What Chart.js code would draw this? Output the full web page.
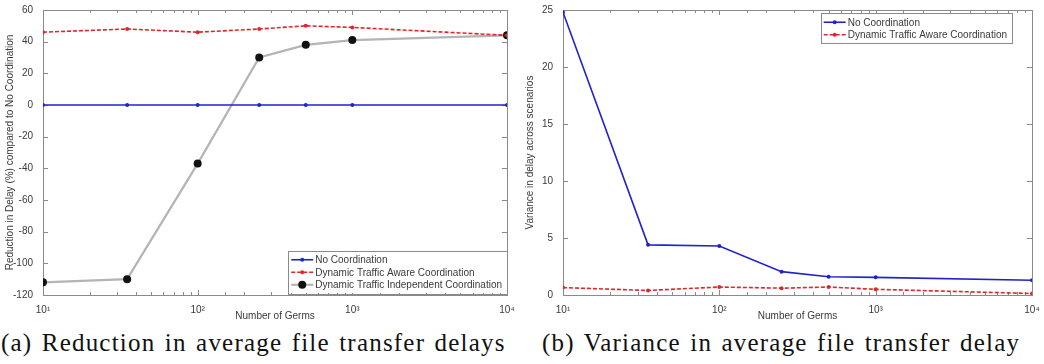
<!DOCTYPE html>
<html>
<head>
<meta charset="utf-8">
<script src="https://cdn.jsdelivr.net/npm/chart.js@4.4.1/dist/chart.umd.min.js"></script>
<style>
  html, body { margin: 0; padding: 0; background: #fff; }
  body { width: 1044px; height: 364px; position: relative; overflow: hidden; }
  .panel { position: absolute; top: 0; height: 322px; }
  #panelA { left: 0; width: 520px; }
  #panelB { left: 520px; width: 524px; }
  .caption {
    position: absolute; top: 329px; margin: 0;
    font-family: "Liberation Serif", serif;
    font-size: 25px; line-height: 28px; color: #111; white-space: nowrap;
    letter-spacing: 1.2px; word-spacing: 2px;
  }
  #capA { left: 1px; }
  #capB { left: 542px; }
</style>
</head>
<body>
<div class="panel" id="panelA"><canvas id="delayChart"></canvas></div>
<div class="panel" id="panelB"><canvas id="varChart"></canvas></div>
<p class="caption" id="capA">(a) Reduction in average file transfer delays</p>
<p class="caption" id="capB">(b) Variance in average file transfer delay</p>

<script>
// number of germs (x, log scale)
const germs = [10, 35, 100, 250, 500, 1000, 10000];

// (a) reduction in delay, % vs no coordination
const reductionNone = [0, 0, 0, 0, 0, 0, 0];
const reductionAware = [46, 48, 46, 48, 50, 49, 44];
const reductionIndep = [-112, -110, -37, 30, 38, 41, 44];

// (b) variance in delay across scenarios
const varianceNone = [24.8, 4.4, 4.3, 2.05, 1.6, 1.55, 1.3];
const varianceAware = [0.65, 0.4, 0.7, 0.6, 0.7, 0.5, 0.13];

const seriesNames = ['No Coordination', 'Dynamic Traffic Aware Coordination', 'Dynamic Traffic Independent Coordination'];
const xTickLabels = { 10: '10\u00B9', 100: '10\u00B2', 1000: '10\u00B3', 10000: '10\u2074' };

const FONT = 'Liberation Sans, Arial, sans-serif';
const TEXT = '#3a3a3a';
const AXIS = '#8a8a8a';

const pts = (ys) => germs.map((g, i) => ({ x: g, y: ys[i] }));

const styleNone = {
  borderColor: '#2222cc', backgroundColor: '#2222cc', borderWidth: 1.6,
  pointRadius: 2, pointHoverRadius: 2, pointBorderWidth: 0
};
const styleAware = {
  borderColor: '#e0262a', backgroundColor: '#e0262a', borderWidth: 1.6,
  borderDash: [4, 2], pointRadius: 2, pointHoverRadius: 2, pointBorderWidth: 0
};
const styleIndep = {
  borderColor: '#b4b4b4', backgroundColor: '#111', pointBorderColor: '#111',
  borderWidth: 2.2, pointRadius: 4, pointHoverRadius: 4, pointBorderWidth: 0
};

// axes box with matlab-style inward ticks
const boxTicks = {
  id: 'boxTicks',
  beforeDatasetsDraw(chart) {
    const { ctx, chartArea: a, scales } = chart;
    ctx.save();
    ctx.strokeStyle = AXIS;
    ctx.lineWidth = 1;
    ctx.strokeRect(a.left + 0.5, a.top + 0.5, a.right - a.left, a.bottom - a.top);
    ctx.beginPath();
    scales.x.ticks.forEach(t => {
      const x = Math.round(scales.x.getPixelForValue(t.value)) + 0.5;
      const len = xTickLabels[t.value] ? 5 : 3;
      ctx.moveTo(x, a.bottom); ctx.lineTo(x, a.bottom - len);
      ctx.moveTo(x, a.top); ctx.lineTo(x, a.top + len);
    });
    scales.y.ticks.forEach(t => {
      const y = Math.round(scales.y.getPixelForValue(t.value)) + 0.5;
      ctx.moveTo(a.left, y); ctx.lineTo(a.left + 5, y);
      ctx.moveTo(a.right, y); ctx.lineTo(a.right - 5, y);
    });
    ctx.stroke();
    ctx.restore();
  }
};

// legend box drawn inside the axes
const boxLegend = {
  id: 'boxLegend',
  afterDatasetsDraw(chart, args, opts) {
    const { ctx, chartArea: a } = chart;
    const sets = chart.data.datasets;
    ctx.save();
    ctx.font = '10px ' + FONT;
    const textW = Math.max(...sets.map(d => ctx.measureText(d.label).width));
    const rowH = 12.5, sample = 22;
    const w = 3 + sample + 2 + textW + 5;
    const h = sets.length * rowH + 5;
    const x0 = a.right - opts.right - w;
    const y0 = opts.top != null ? a.top + opts.top : a.bottom - opts.bottom - h;
    ctx.fillStyle = '#fff';
    ctx.fillRect(x0, y0, w, h);
    ctx.strokeStyle = AXIS;
    ctx.lineWidth = 1;
    ctx.strokeRect(Math.round(x0) + 0.5, Math.round(y0) + 0.5, Math.round(w), Math.round(h));
    sets.forEach((d, i) => {
      const cy = y0 + 3 + rowH * i + rowH / 2;
      const sx = x0 + 3;
      ctx.strokeStyle = d.borderColor;
      ctx.lineWidth = d.borderWidth;
      ctx.setLineDash(d.borderDash || []);
      ctx.beginPath(); ctx.moveTo(sx, cy); ctx.lineTo(sx + sample, cy); ctx.stroke();
      ctx.setLineDash([]);
      ctx.fillStyle = d.pointBorderColor || d.backgroundColor;
      ctx.beginPath(); ctx.arc(sx + sample / 2, cy, d.pointRadius, 0, Math.PI * 2); ctx.fill();
      ctx.fillStyle = TEXT;
      ctx.textBaseline = 'middle';
      ctx.fillText(d.label, sx + sample + 2, cy + 0.5);
    });
    ctx.restore();
  }
};

function makeChart(id, datasets, yMin, yMax, yStep, yTitle, legendPos, padRight) {
  return new Chart(document.getElementById(id), {
    type: 'line',
    data: { datasets },
    plugins: [boxTicks, boxLegend],
    options: {
      responsive: true,
      maintainAspectRatio: false,
      animation: false,
      layout: { padding: { top: 10, right: padRight, bottom: 0, left: 0 } },
      plugins: {
        legend: { display: false },
        tooltip: { enabled: false },
        boxLegend: legendPos
      },
      scales: {
        x: {
          type: 'logarithmic', min: 10, max: 10000,
          grid: { display: false }, border: { display: false },
          ticks: {
            autoSkip: false, maxRotation: 0, padding: 1,
            color: TEXT, font: { family: FONT, size: 10 },
            callback: v => xTickLabels[v] || ''
          },
          title: { display: true, text: 'Number of Germs', color: TEXT,
                   font: { family: FONT, size: 10 }, padding: { top: 0, bottom: 0 } },
          afterFit: s => { s.height = 27; }
        },
        y: {
          min: yMin, max: yMax,
          grid: { display: false }, border: { display: false },
          ticks: { stepSize: yStep, padding: 2, color: TEXT, font: { family: FONT, size: 10 } },
          title: { display: true, text: yTitle, color: TEXT,
                   font: { family: FONT, size: 10 }, padding: { top: 4, bottom: 2 } },
          afterFit: s => { s.width = 43; }
        }
      }
    }
  });
}

makeChart('delayChart', [
  { label: seriesNames[0], data: pts(reductionNone), ...styleNone },
  { label: seriesNames[1], data: pts(reductionAware), ...styleAware },
  { label: seriesNames[2], data: pts(reductionIndep), ...styleIndep }
], -120, 60, 20, 'Reduction in Delay (%) compared to No Coordination', { right: 0, bottom: 2 }, 13);

makeChart('varChart', [
  { label: seriesNames[0], data: pts(varianceNone), ...styleNone },
  { label: seriesNames[1], data: pts(varianceAware), ...styleAware }
], 0, 25, 5, 'Variance in delay across scenarios', { right: 20, top: 3 }, 12);
</script>
</body>
</html>
